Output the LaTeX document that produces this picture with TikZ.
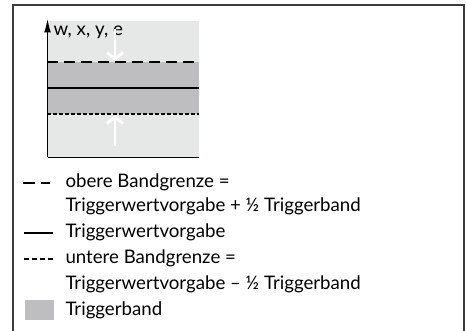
\documentclass[tikz,border=0pt]{standalone}
\usepackage{fontspec}
\setmainfont{Lato}
\usetikzlibrary{arrows.meta,positioning}

\definecolor{bandgray}{RGB}{190,190,192}
\definecolor{backgray}{RGB}{230,231,231}
\definecolor{framegray}{RGB}{60,60,60}

\tikzset{every picture/.style={line width=0.75pt}}
\tikzset{
  legtext/.style={anchor=west,inner sep=0pt,font=\fontsize{14}{16}\selectfont},
  upperline/.style={line width=1.5pt,dash pattern=on 8.25pt off 4.5pt},
  lowerline/.style={line width=1.5pt,dash pattern=on 3pt off 1.5pt},
  midline/.style={line width=1.5pt},
  pusharrow/.style={white,line width=2.2pt,-{Straight Barb[length=5pt,width=12pt]}}
}

\begin{document}
\begin{tikzpicture}[x=0.75pt,y=0.75pt,yscale=-1,xscale=1]
\useasboundingbox (0,0) rectangle (467,330);

% outer frame, open at the bottom
\draw [framegray,line width=1pt] (13,332) -- (13,5) -- (464,5) -- (464,332);

% plot area
\fill [backgray] (47,21) rectangle (199,157);
\fill [bandgray] (47,62) rectangle (199,114);
\draw [upperline] (47,62) -- (199,62);
\draw [midline] (47,88) -- (199,88);
\draw [lowerline] (47,114) -- (199,114);

% axes
\coordinate (origin) at (47.5,157);
\coordinate (ytip) at (47.5,19);
\coordinate (xend) at (199,157);
\draw (xend) -- (origin);
\draw [-{Latex[length=10pt,width=5pt]}] (origin) -- (ytip);
\node (ylabel) [legtext] at (53,32) {w, x, y, e};

% white arrows pushing on the band limits
\coordinate (topstart) at (115,29);
\coordinate (topend) at (115,61);
\coordinate (botstart) at (115,146);
\coordinate (botend) at (115,115);
\draw [pusharrow] (topstart) -- (topend);
\draw [pusharrow] (botstart) -- (botend);

% legend
\node (upper) [legtext] at (65,182) {obere Bandgrenze =};
\node (upper2) [legtext] at (65,206) {Triggerwertvorgabe + \textonehalf\ Triggerband};
\node (mid) [legtext] at (65,232) {Triggerwertvorgabe};
\node (lower) [legtext] at (65,258) {untere Bandgrenze =};
\node (lower2) [legtext] at (65,284) {Triggerwertvorgabe – \textonehalf\ Triggerband};
\node (band) [legtext] at (65,310) {Triggerband};

\draw [line width=1.5pt] (23,183) -- (35,183) (41,183) -- (50,183);
\draw [midline] (24,233) -- (53,233);
\draw [line width=1.5pt,dash pattern=on 4pt off 2pt] (24,259) -- (54,259);
\fill [bandgray] (25,300) rectangle (54,320);

\end{tikzpicture}
\end{document}
